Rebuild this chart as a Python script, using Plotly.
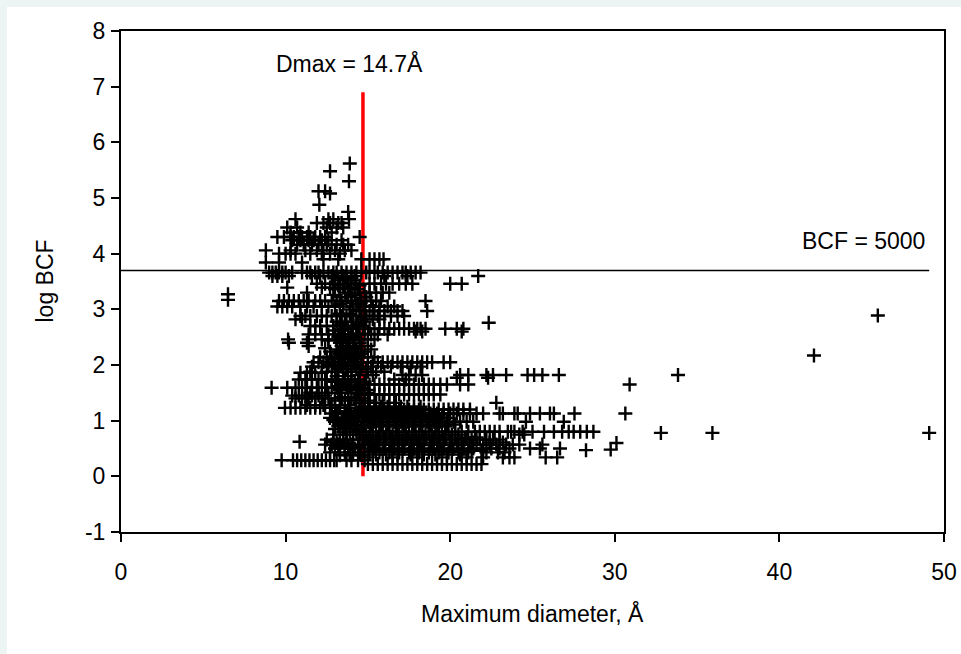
import math
import plotly.graph_objects as go

# Maximum molecular diameter (Å) of the compounds, grouped by their log BCF value
levels = [
    5.62, 5.48, 5.30, 5.12, 5.08, 4.88, 4.75, 4.62, 4.55, 4.47, 4.38, 4.30, 4.24,
    4.16, 4.06, 4.00, 3.90, 3.84, 3.66, 3.60, 3.46, 3.39, 3.30, 3.15, 3.05, 2.97,
    2.88, 2.82, 2.70, 2.65, 2.60, 2.55, 2.46, 2.40, 2.34, 2.24, 2.14, 2.05, 1.97,
    1.88, 1.82, 1.77, 1.74, 1.65, 1.59, 1.50, 1.47, 1.40, 1.32, 1.28, 1.23, 1.20,
    1.13, 1.05, 0.98, 0.90, 0.80, 0.75, 0.66, 0.62, 0.57, 0.50, 0.43, 0.34, 0.29,
    0.22,
]
diameters = [
    [13.9],
    [12.7],
    [13.85],
    [12.0, 12.4],
    [12.7],
    [12.05],
    [13.8],
    [10.6, 12.6, 12.9, 13.85],
    [11.9, 12.3, 12.7, 13.2, 13.4],
    [10.1, 10.7, 12.5, 13.1, 13.5],
    [10.3, 10.9, 11.4, 12.8],
    [9.5, 9.9, 10.3, 10.5, 10.8, 11.0, 11.3, 11.5, 11.8, 12.1, 12.4, 14.5],
    [10.4, 10.9, 11.4, 11.7, 12.2, 12.6, 13.4],
    [10.7, 11.1, 11.6, 12.0, 12.5, 12.8, 13.1, 13.5, 13.8],
    [8.8, 10.3, 11.2, 11.9, 12.3, 13.0, 13.6, 14.0],
    [9.6, 10.0, 10.3, 10.6, 11.5, 12.2, 12.7, 13.3],
    [12.3, 13.2, 14.6, 15.1, 15.4, 15.7, 15.95],
    [8.8, 9.6, 11.0],
    [9.0, 9.2, 9.4, 9.6, 9.8, 10.0, 10.4, 11.0, 11.3, 11.5, 11.8, 12.0, 12.3, 12.6,
     12.9, 13.1, 13.4, 13.7, 14.0, 14.3, 14.6, 14.9, 15.1, 15.4, 15.6, 15.9, 16.2,
     16.5, 16.8, 17.1, 17.3, 17.6, 17.9, 18.2],
    [9.2, 9.5, 9.8, 10.2, 11.6, 12.1, 12.8, 13.5, 14.2, 16.0, 17.4],
    [11.9, 12.4, 12.9, 13.3, 13.8, 14.3, 15.1, 15.4, 15.8, 16.1, 16.5, 16.9, 17.3,
     17.7, 20.0, 20.7],
    [10.1, 12.2, 12.7, 13.5, 14.0],
    [11.3, 13.6, 14.0, 14.5, 14.8, 15.1, 15.5, 15.9, 16.3],
    [9.6, 9.9, 10.2, 10.5, 10.8, 11.1, 11.4, 11.8, 12.1, 12.4, 12.8, 13.1, 13.4,
     13.7, 14.0, 14.3, 14.6, 14.9, 15.2, 15.5, 15.8, 18.5],
    [9.5, 9.8, 10.1, 10.4, 10.9, 11.3, 11.7, 12.2, 12.6, 13.0, 13.5, 14.1, 14.8,
     15.3, 15.7, 16.2, 16.6],
    [14.5, 14.8, 15.1, 15.4, 15.7, 16.0, 16.4, 16.8, 17.1, 18.6],
    [10.9, 11.2, 11.5, 11.9, 12.2, 12.5, 12.8, 13.1, 13.4, 13.7, 14.0, 14.3, 14.6,
     14.9, 15.3, 15.6, 16.0, 16.4, 16.8, 17.2],
    [10.6, 11.0, 14.6, 14.9, 15.3, 15.7],
    [11.5, 11.8, 12.1, 12.5, 12.9, 13.3, 13.6, 14.0, 14.3, 14.7],
    [13.5, 13.8, 14.1, 14.5, 14.8, 15.1, 15.4, 15.7, 16.0, 16.3, 16.6, 16.9, 17.2,
     17.5, 17.8, 18.0, 18.2, 18.5, 19.7, 20.4, 20.8],
    [17.9, 18.3, 20.7],
    [11.4, 11.8, 12.2, 12.6, 13.0, 13.3, 13.6, 14.0, 14.4, 14.8, 15.2, 15.6, 16.2],
    [10.15, 11.4, 12.2, 12.6, 13.1, 13.5, 13.9, 14.2, 14.6, 15.0, 15.4],
    [10.2, 11.3, 13.3, 13.7, 14.1, 14.5],
    [11.4, 13.4, 13.8, 14.2, 14.6, 15.0],
    [12.7, 13.2, 13.6, 14.0, 14.4, 14.8],
    [12.1, 12.5, 13.0, 13.4, 13.8, 14.2, 14.6, 15.0, 15.4],
    [11.7, 12.0, 12.3, 12.6, 12.9, 13.2, 13.5, 13.8, 14.1, 14.4, 14.7, 15.0, 15.3,
     15.6, 15.9, 16.2, 16.5, 16.8, 17.1, 17.4, 17.7, 18.0, 18.3, 18.6, 18.9, 19.6,
     20.0],
    [11.6, 12.2, 12.8, 13.4, 14.0, 14.6, 15.2, 15.8, 16.4, 17.0, 17.6, 18.2],
    [11.5, 12.5, 13.0, 13.5, 14.0, 14.5, 15.0, 15.5, 16.0],
    [14.5, 14.9, 15.3, 17.1, 17.5, 17.9, 18.3, 20.6, 21.1, 22.2, 22.6, 23.4, 24.7,
     25.1, 25.6, 26.6],
    [20.4, 22.3],
    [10.8, 11.2, 11.6, 12.0, 12.4, 12.8, 13.2, 13.6, 14.0, 14.4, 16.6, 17.3],
    [14.5, 14.8, 15.1, 15.4, 15.7, 16.0, 16.3, 16.6, 16.9, 17.2, 17.5, 17.8, 18.1,
     18.4, 18.7, 19.0, 19.4, 19.8, 20.6, 21.1],
    [9.15, 10.1, 10.6, 11.0, 11.3, 11.6, 11.9, 12.2, 12.5, 12.8, 13.1, 13.4, 13.7,
     14.0, 14.3, 14.6],
    [11.5, 12.0, 12.6, 13.2, 13.8, 14.4, 15.0],
    [14.5, 14.8, 15.1, 15.4, 15.7, 16.0, 16.3, 16.6, 16.9, 17.2, 17.5, 17.8, 18.1,
     18.4, 18.7, 19.0, 19.4],
    [10.6, 11.0, 11.4, 11.8, 12.2, 12.6, 13.0, 13.4, 13.8, 14.2, 14.6],
    [14.5, 14.8, 15.1, 15.5, 15.9, 16.3, 16.7, 22.8],
    [11.3, 11.8, 12.3, 12.8, 13.3, 13.8],
    [9.96, 10.3, 10.6, 10.9, 11.2, 11.5, 11.8, 12.1, 12.4, 12.7, 13.0, 13.3, 13.6,
     13.9],
    [14.5, 14.8, 15.1, 15.4, 15.7, 16.0, 16.3, 16.6, 16.9, 17.2, 17.5, 17.8, 18.1,
     18.4, 18.7, 19.0, 19.3, 19.6, 19.9, 20.2, 20.5, 20.8, 21.2],
    [12.8, 13.2, 13.6, 14.0, 14.4, 14.8, 15.2, 15.6, 16.0, 16.4, 16.8, 17.2, 17.6,
     18.0, 18.4, 18.8, 19.2, 19.6, 20.0, 20.4, 20.8, 21.2, 21.6, 22.0, 23.0, 23.2,
     23.9, 24.1, 24.85, 25.45, 26.06, 26.3],
    [12.7, 13.1, 13.5, 13.9, 14.3, 14.7, 15.1, 15.5, 15.9, 16.3, 16.7, 17.1, 17.5,
     17.9, 18.3, 18.7, 19.1, 19.5, 19.9],
    [13.0, 13.4, 13.8, 14.2, 14.6, 15.0, 15.4, 15.8, 16.2, 16.6, 17.0, 17.4, 17.8,
     18.2, 18.6, 19.0, 19.4, 19.8, 20.2, 20.6, 21.0, 21.4, 24.6, 26.9],
    [13.2, 13.7, 14.2, 14.7, 15.2, 15.7, 16.2, 16.7, 17.2, 17.7, 18.2, 18.7, 19.2,
     19.7],
    [13.5, 13.9, 14.3, 14.7, 15.1, 15.5, 15.9, 16.3, 16.7, 17.1, 17.5, 17.9, 18.3,
     18.7, 19.1, 19.5, 19.9, 20.3, 20.7, 21.1, 21.5, 21.8, 22.1, 22.4, 22.7, 23.0,
     23.5, 23.7, 23.9, 24.4, 25.0, 25.7, 26.3, 26.8, 27.2, 27.5, 27.9, 28.3, 28.7],
    [12.9, 13.3, 13.7, 14.1, 14.5, 14.9, 15.3, 15.7, 16.1, 16.5, 16.9, 17.3, 17.7,
     18.1, 18.5, 18.9, 19.3, 19.7, 20.1, 20.5, 24.2, 24.5],
    [12.5, 12.9, 13.3, 13.7, 14.1, 14.5, 14.9, 15.3, 15.7, 16.1, 16.5, 16.9, 17.3,
     17.7, 18.1, 18.5, 18.9, 19.3, 19.7, 20.1, 20.5, 20.9, 21.3, 21.8, 22.2, 22.6,
     23.0],
    [10.85, 12.9, 13.5],
    [12.4, 12.8, 13.2, 13.6, 14.0, 14.4, 14.8, 15.2, 15.6, 16.0, 16.4, 16.8, 17.2,
     17.6, 18.0, 18.4, 18.8, 19.2, 19.6, 20.0, 20.4, 20.8, 21.2, 21.6, 22.0, 22.4,
     22.8, 23.4, 23.8, 24.2, 25.6],
    [13.0, 13.6, 14.2, 14.8, 15.4, 16.0, 16.6, 17.2, 17.8, 18.4, 19.0, 19.6, 20.2,
     20.8, 21.4, 22.0, 22.5, 23.0, 23.6, 24.85, 25.45, 26.67],
    [12.7, 13.3, 13.9, 14.5, 15.1, 15.7, 16.3, 16.9, 17.5, 18.1, 18.7, 19.3, 19.9,
     20.5, 21.1, 22.2, 22.9, 23.3],
    [15.0, 16.5, 18.0, 19.5, 21.0, 22.0, 23.2, 23.6, 23.9, 25.8, 26.5],
    [9.76, 10.45, 10.7, 10.95, 11.2, 11.45, 11.7, 11.95, 12.2, 12.45, 12.7, 12.95,
     13.1, 13.7, 14.0, 14.4, 14.8],
    [15.0, 15.3, 15.6, 15.9, 16.2, 16.5, 16.8, 17.1, 17.4, 17.7, 18.0, 18.3, 18.6,
     18.9, 19.2, 19.5, 19.8, 20.1, 20.4, 20.7, 21.0, 21.3, 21.6, 21.9],
]

# Crowded column of compounds around the Dmax cut-off and the block right of it
core_levels = [3.56, 3.52, 3.43, 3.36, 3.26, 3.22, 3.10, 3.00, 2.92, 2.78, 2.74,
               2.62, 2.56, 2.50, 2.44, 2.30, 2.28, 2.20, 2.17, 2.10, 2.00, 1.93,
               1.86, 1.80, 1.70, 1.62, 1.55, 1.45, 1.42, 1.36, 1.25, 1.17, 1.09,
               1.01, 0.95, 0.93, 0.85, 0.70, 0.61, 0.60, 0.53, 0.46, 0.39, 0.38]
core_diameters = [
    [13.0, 13.6, 14.0], [13.2, 13.7, 14.2], [13.2, 14.5], [13.0, 13.9, 14.4],
    [12.9, 14.2], [13.3, 13.8, 14.9], [13.3, 14.4], [13.9, 14.5], [13.3, 13.9],
    [13.1, 13.6, 14.1, 14.8], [13.4, 14.4], [12.9, 13.4], [14.3, 15.0],
    [13.2, 13.9], [12.6, 13.4], [12.4, 13.7], [13.1, 14.3, 15.2],
    [13.3, 13.9, 14.6], [13.5, 14.2], [12.8, 13.6, 14.3], [12.6, 13.3, 14.2],
    [13.2, 13.7, 14.3, 14.9],
    [10.9, 11.3, 11.8, 12.2], [13.1, 13.8], [13.0, 13.5, 14.2, 14.8],
    [13.2, 13.9], [13.3, 13.8, 14.4, 15.0],
    [10.4, 10.8, 11.2, 11.6, 12.0, 12.4], [13.4, 14.0],
    [13.0, 13.6, 14.3, 15.1],
    [14.6, 15.0, 15.4, 15.8, 16.2, 16.6, 17.0, 17.4, 17.8, 18.2],
    [13.1, 13.7, 14.5],
    [14.9, 15.3, 15.7, 16.1, 16.5, 16.9, 17.3, 17.7, 18.1, 18.5, 18.9, 19.3],
    [12.9, 13.5, 14.1], [13.3, 14.0],
    [14.8, 15.3, 15.8, 16.3, 16.8, 17.3, 17.8, 18.3, 18.8, 19.3, 19.8, 20.3],
    [13.0, 13.6, 14.4],
    [14.7, 15.1, 15.6, 16.0, 16.4, 16.8, 17.4, 17.9, 18.4, 19.0, 19.6, 20.3, 21.0,
     21.6],
    [15.0, 15.5, 16.0, 16.6, 17.1, 17.7, 18.2, 18.8, 19.4, 20.0, 20.7, 21.4, 22.4,
     23.2],
    [13.1, 13.7], [13.2, 13.8, 14.4],
    [15.3, 15.9, 16.5, 17.1, 17.7, 18.3, 18.9, 19.5, 20.1, 20.7, 21.3, 21.9],
    [13.6, 14.1, 15.5, 16.1, 16.8, 17.6, 18.4, 19.1, 19.8, 20.6],
    [13.3, 13.9, 14.6],
]

# Isolated compounds away from the main cloud
outlier_diam = [6.5, 6.5, 45.98, 42.1, 33.84, 30.9, 30.64, 32.8, 35.93, 49.1,
                30.1, 29.75, 28.25, 27.55, 22.34, 21.7]
outlier_bcf = [3.27, 3.17, 2.89, 2.17, 1.82, 1.65, 1.13, 0.78, 0.78, 0.78,
               0.60, 0.48, 0.47, 1.13, 2.76, 3.6]

# Axis ticks
x_ticks = [0, 10, 20, 30, 40, 50]
y_ticks = [-1, 0, 1, 2, 3, 4, 5, 6, 7, 8]
y_tick_text = ["-1", "0", "1", "2", "3", "4", "5", "6", "7", "8"]

# Reference values
dmax = 14.7            # Å
dmax_top = 6.9         # top of the Dmax marker (log BCF)
bcf_threshold = 5000   # BCF criterion
x_end = 49.1

x_vals, y_vals = [], []
for lvl, row in list(zip(levels, diameters)) + list(zip(core_levels, core_diameters)):
    x_vals += row
    y_vals += [lvl] * len(row)
x_vals += outlier_diam
y_vals += outlier_bcf

log_threshold = math.log10(bcf_threshold)

FONT = "Liberation Sans, Arial, sans-serif"
FS = 23
PALE = "#ecf5f3"

fig = go.Figure()

fig.add_trace(go.Scatter(
    x=[dmax, dmax], y=[0, dmax_top], mode="lines",
    line=dict(color="#ff0000", width=3.5), hoverinfo="skip", showlegend=False,
))
fig.add_trace(go.Scatter(
    x=x_vals, y=y_vals, mode="markers",
    marker=dict(symbol="cross-thin", size=10, color="black",
                line=dict(color="black", width=2.4)),
    showlegend=False,
))
fig.add_trace(go.Scatter(
    x=[0, x_end], y=[log_threshold, log_threshold], mode="lines",
    line=dict(color="black", width=1.5), hoverinfo="skip", showlegend=False,
))

L, R, T, B = 121, 17, 31, 122
W, H = 961, 654
pw, ph = W - L - R, H - T - B

# pale page border along the top and left edges
fig.add_shape(type="rect", xref="paper", yref="paper",
              x0=-L / pw, x1=(W - L) / pw,
              y0=(H - 7 - B) / ph, y1=(H - B) / ph,
              fillcolor=PALE, line=dict(width=0), layer="below")
fig.add_shape(type="rect", xref="paper", yref="paper",
              x0=-L / pw, x1=(7 - L) / pw,
              y0=-B / ph, y1=(H - B) / ph,
              fillcolor=PALE, line=dict(width=0), layer="below")

fig.add_annotation(x=13.9, y=7.42, text="Dmax = 14.7Å", showarrow=False,
                   xanchor="center", yanchor="middle",
                   font=dict(family=FONT, size=FS, color="black"))
fig.add_annotation(x=48.95, y=4.22, text="BCF = 5000", showarrow=False,
                   xanchor="right", yanchor="middle",
                   font=dict(family=FONT, size=FS, color="black"))
fig.add_annotation(xref="paper", yref="paper", x=0.5, y=-(613 - 532) / ph,
                   text="Maximum diameter, Å", showarrow=False,
                   xanchor="center", yanchor="middle",
                   font=dict(family=FONT, size=FS, color="black"))
fig.add_annotation(xref="paper", yref="paper", x=(44 - L) / pw, y=0.5,
                   text="log BCF", showarrow=False, textangle=-90,
                   xanchor="center", yanchor="middle",
                   font=dict(family=FONT, size=FS, color="black"))

axis_common = dict(showgrid=False, zeroline=False, showline=True, linecolor="black",
                   linewidth=2, mirror=True, ticks="outside", ticklen=8,
                   tickwidth=2, tickcolor="black", automargin=False,
                   tickfont=dict(family=FONT, size=FS, color="black"))
fig.update_xaxes(range=[0, 50], tickvals=x_ticks,
                 ticklabelstandoff=10, **axis_common)
fig.update_yaxes(range=[-1, 8], tickvals=y_ticks, ticktext=y_tick_text,
                 ticklabelstandoff=1, **axis_common)

fig.update_layout(
    width=W, height=H,
    margin=dict(l=L, r=R, t=T, b=B),
    paper_bgcolor="white", plot_bgcolor="white",
    font=dict(family=FONT, size=FS, color="black"),
    showlegend=False,
)

# keep the page free of scrollbars so the figure fills the window
fig.write_html(
    "out.html",
    post_script="document.documentElement.style.overflow='hidden';"
                "document.body.style.overflow='hidden';",
)
